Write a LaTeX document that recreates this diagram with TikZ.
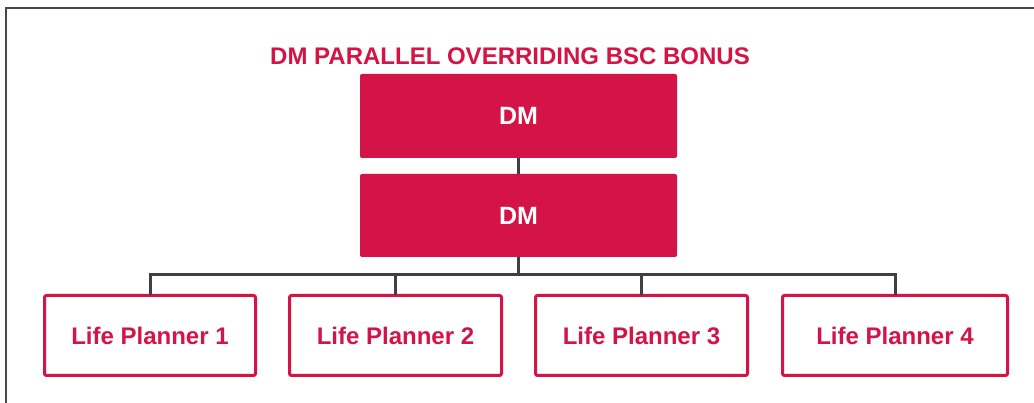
\documentclass[tikz,border=0pt]{standalone}
\usepackage{fontspec}
\setmainfont{Liberation Sans}
\definecolor{brand}{RGB}{212,19,70}
\definecolor{wire}{RGB}{64,64,64}
\definecolor{framegray}{RGB}{72,72,72}
\begin{document}
\begin{tikzpicture}[x=1pt,y=-1pt,
  dmbox/.style={fill=brand,draw=none,rounded corners=2pt,inner sep=0pt,
    minimum width=317pt,text=white,font=\bfseries\fontsize{25}{28}\selectfont},
  lpbox/.style={draw=brand,line width=3pt,fill=white,rounded corners=2pt,inner sep=0pt,
    minimum height=80pt,text=brand,font=\bfseries\fontsize{24}{27}\selectfont},
  link/.style={draw=wire,line width=3pt},
  heading/.style={text=brand,font=\bfseries\fontsize{24}{27}\selectfont,inner sep=0pt}]
  \useasboundingbox (0,0) rectangle (1034,403);
  % outer frame, running off the right and bottom edges
  \begin{scope}
    \clip (0,0) rectangle (1034,403);
    \draw[framegray,line width=2.4pt] (6,8) rectangle (1045,420);
  \end{scope}

  \node[heading] (title) at (510,56) {DM PARALLEL OVERRIDING BSC BONUS};

  \node[dmbox,minimum height=84pt] (dm1) at (518.5,116) {DM};
  \node[dmbox,minimum height=83pt] (dm2) at (518.5,215.5) {DM};

  \node[lpbox,minimum width=211pt] (lp1) at (150,335.5) {Life Planner 1};
  \node[lpbox,minimum width=212pt] (lp2) at (395.5,335.5) {Life Planner 2};
  \node[lpbox,minimum width=212pt] (lp3) at (641.5,335.5) {Life Planner 3};
  \node[lpbox,minimum width=225pt] (lp4) at (895,335.5) {Life Planner 4};

  % tree connectors
  \coordinate (bus) at (518.5,275);
  \path[link] (dm1.south) -- (dm2.north);
  \path[link] (dm2.south) -- (bus);
  \foreach \n in {lp1,lp2,lp3,lp4}
    \path[link] (bus) -| ([yshift=-1.5pt]\n.north);
\end{tikzpicture}
\end{document}
